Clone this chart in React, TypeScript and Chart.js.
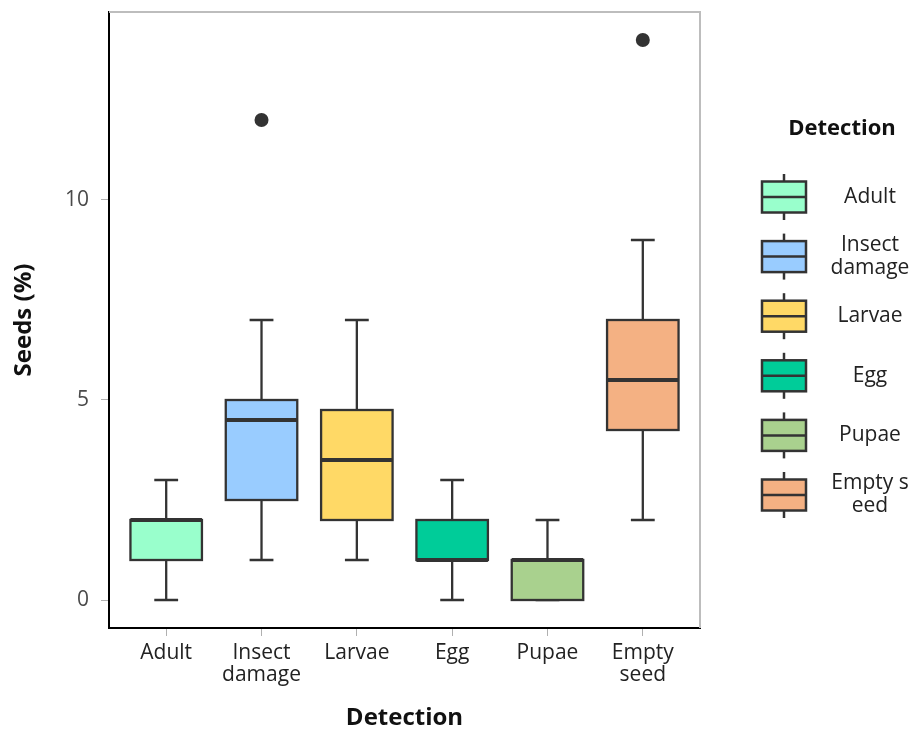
import { useEffect, useRef } from "react";
import { Chart, registerables } from "chart.js";

Chart.register(...registerables);

const categories = ["Adult", "Insect damage", "Larvae", "Egg", "Pupae", "Empty seed"];
const tickLabels = [["Adult"], ["Insect", "damage"], ["Larvae"], ["Egg"], ["Pupae"], ["Empty", "seed"]];
const legendLabels = [["Adult"], ["Insect", "damage"], ["Larvae"], ["Egg"], ["Pupae"], ["Empty s", "eed"]];
const whiskerLow = [0, 1, 1, 0, 0, 2];
const quartile1 = [1, 2.5, 2, 1, 0, 4.25];
const medians = [2, 4.5, 3.5, 1, 1, 5.5];
const quartile3 = [2, 5, 4.75, 2, 1, 7];
const whiskerHigh = [3, 7, 7, 3, 2, 9];
const outlierCategory = [2, 6];
const outlierValue = [12, 14];
const yTickValues = [0, 5, 10];
const boxColors = ["#99FFCC", "#99CCFF", "#FFD966", "#00CC99", "#A9D18E", "#F4B183"];

const FONT = "'Open Sans', 'Noto Sans', sans-serif";
const STROKE = "#333333";

const boxPlugin = {
  id: "boxes",
  beforeDatasetsDraw(chart: any) {
    const { ctx, chartArea } = chart;
    const x = chart.scales.x;
    const y = chart.scales.y;
    ctx.save();
    // top / right frame
    ctx.strokeStyle = "#bdbdbd";
    ctx.lineWidth = 2;
    ctx.beginPath();
    ctx.moveTo(chartArea.left, chartArea.top);
    ctx.lineTo(chartArea.right, chartArea.top);
    ctx.lineTo(chartArea.right, chartArea.bottom);
    ctx.stroke();

    const half = x.getPixelForValue(1.375) - x.getPixelForValue(1);
    const cap = x.getPixelForValue(1.125) - x.getPixelForValue(1);
    categories.forEach((_, i) => {
      const cx = x.getPixelForValue(i + 1);
      const yLo = y.getPixelForValue(whiskerLow[i]);
      const yQ1 = y.getPixelForValue(quartile1[i]);
      const yMed = y.getPixelForValue(medians[i]);
      const yQ3 = y.getPixelForValue(quartile3[i]);
      const yHi = y.getPixelForValue(whiskerHigh[i]);
      ctx.strokeStyle = STROKE;
      ctx.lineWidth = 2.3;
      ctx.beginPath();
      ctx.moveTo(cx, yQ3);
      ctx.lineTo(cx, yHi);
      ctx.moveTo(cx - cap, yHi);
      ctx.lineTo(cx + cap, yHi);
      ctx.moveTo(cx, yQ1);
      ctx.lineTo(cx, yLo);
      ctx.moveTo(cx - cap, yLo);
      ctx.lineTo(cx + cap, yLo);
      ctx.stroke();
      ctx.fillStyle = boxColors[i];
      ctx.fillRect(cx - half, yQ3, half * 2, yQ1 - yQ3);
      ctx.strokeRect(cx - half, yQ3, half * 2, yQ1 - yQ3);
      ctx.lineWidth = 3.8;
      ctx.beginPath();
      ctx.moveTo(cx - half, yMed);
      ctx.lineTo(cx + half, yMed);
      ctx.stroke();
    });
    ctx.restore();
  },
  afterDraw(chart: any) {
    const { ctx } = chart;
    ctx.save();
    ctx.fillStyle = "#111";
    ctx.textAlign = "center";
    ctx.textBaseline = "middle";
    ctx.font = `bold 22px ${FONT}`;
    ctx.fillText("Detection", 842, 129);
    ctx.font = `21px ${FONT}`;
    legendLabels.forEach((lines, i) => {
      const cy = 197 + i * 59.6;
      ctx.strokeStyle = STROKE;
      ctx.lineWidth = 2.5;
      ctx.beginPath();
      ctx.moveTo(784, cy - 23);
      ctx.lineTo(784, cy + 23);
      ctx.stroke();
      ctx.fillStyle = boxColors[i];
      ctx.fillRect(762, cy - 15.5, 44, 31);
      ctx.strokeRect(762, cy - 15.5, 44, 31);
      ctx.beginPath();
      ctx.moveTo(762, cy);
      ctx.lineTo(806, cy);
      ctx.stroke();
      ctx.fillStyle = "#222";
      if (lines.length === 1) {
        ctx.fillText(lines[0], 870, cy);
      } else {
        ctx.fillText(lines[0], 870, cy - 12);
        ctx.fillText(lines[1], 870, cy + 11);
      }
    });
    ctx.restore();
  },
};

export default function App() {
  const canvasRef = useRef<HTMLCanvasElement | null>(null);

  useEffect(() => {
    document.body.style.margin = "0";
    const canvas = canvasRef.current;
    if (!canvas) return;
    const chart = new Chart(canvas, {
      type: "scatter",
      data: {
        datasets: [
          {
            label: "Outliers",
            data: outlierCategory.map((c, i) => ({ x: c, y: outlierValue[i] })),
            backgroundColor: "#333333",
            borderWidth: 0,
            pointRadius: 7,
            pointHoverRadius: 7,
          },
        ],
      },
      options: {
        animation: false,
        responsive: true,
        maintainAspectRatio: false,
        events: [],
        layout: { padding: { top: 12, right: 214, left: 0, bottom: 0 } },
        plugins: { legend: { display: false }, tooltip: { enabled: false } },
        scales: {
          x: {
            type: "linear",
            min: 0.4,
            max: 6.6,
            afterBuildTicks: (scale: any) => {
              scale.ticks = categories.map((_, i) => ({ value: i + 1 }));
            },
            afterFit: (scale: any) => {
              scale.height = 103;
              scale.paddingLeft = 0;
              scale.paddingRight = 0;
            },
            grid: { drawOnChartArea: false, drawTicks: true, tickLength: 8, color: "#b0b0b0", lineWidth: 1 },
            border: { display: true, color: "#000", width: 2 },
            ticks: {
              padding: 6,
              color: "#222",
              font: { family: FONT, size: 21, lineHeight: 1.05 },
              maxRotation: 0,
              autoSkip: false,
              callback: (value: any) => tickLabels[Math.round(value) - 1] ?? "",
            },
            title: {
              display: true,
              text: "Detection",
              color: "#111",
              font: { family: FONT, size: 24, weight: "bold", lineHeight: 1.1 },
              padding: { top: 0, bottom: 0 },
            },
          },
          y: {
            type: "linear",
            min: -0.7,
            max: 14.7,
            afterBuildTicks: (scale: any) => {
              scale.ticks = yTickValues.map((v) => ({ value: v }));
            },
            afterFit: (scale: any) => {
              scale.width = 109;
              scale.paddingTop = 0;
              scale.paddingBottom = 0;
            },
            grid: { drawOnChartArea: false, drawTicks: true, tickLength: 8, color: "#b0b0b0", lineWidth: 1 },
            border: { display: true, color: "#000", width: 2 },
            ticks: {
              padding: 12,
              color: "#4a4a4a",
              font: { family: FONT, size: 21 },
              callback: (value: any) => String(value),
            },
            title: {
              display: true,
              text: "Seeds (%)",
              color: "#111",
              font: { family: FONT, size: 24, weight: "bold", lineHeight: 1.1 },
              padding: { top: 11, bottom: 0 },
            },
          },
        },
      },
      plugins: [boxPlugin],
    });
    return () => chart.destroy();
  }, []);

  return (
    <div style={{ width: 914, height: 731, position: "relative" }}>
      <canvas ref={canvasRef} />
    </div>
  );
}
